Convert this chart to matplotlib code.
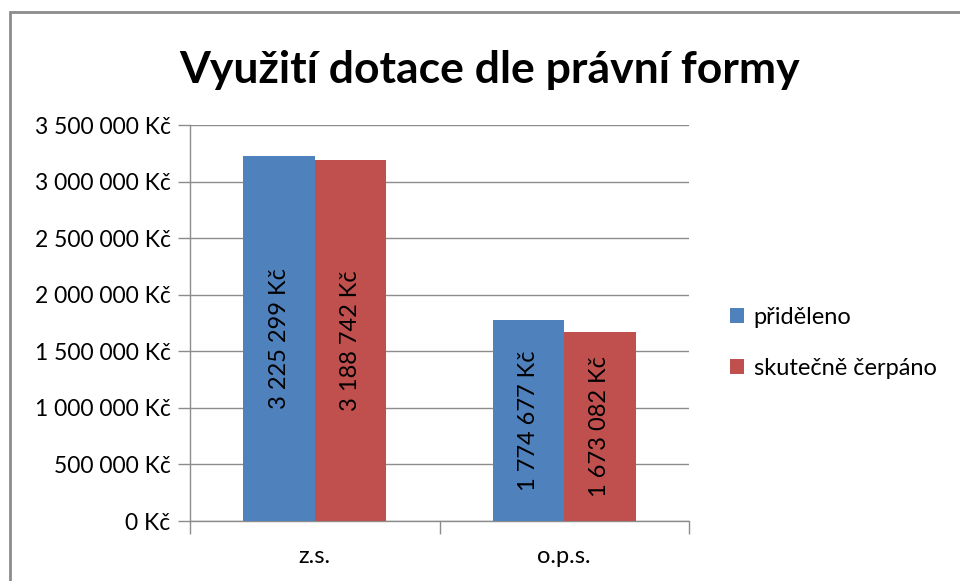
import matplotlib.pyplot as plt
import matplotlib.ticker as mticker
from matplotlib.patches import Rectangle
import numpy as np

plt.rcParams['font.family'] = ['Lato', 'DejaVu Sans']

categories = ["z.s.", "o.p.s."]
pridel = [3225299, 1774677]
cerpano = [3188742, 1673082]
series_names = ["přiděleno", "skutečně čerpáno"]
colors = ["#4F81BD", "#C0504D"]

def kc(v):
    return "{:,.0f} Kč".format(v).replace(",", " ")

fig = plt.figure(figsize=(9.6, 5.81), dpi=100)
# chart frame (cut off at right and bottom like in the screenshot)
fig.patches.append(Rectangle((10 / 960, -0.05), 1.0, 1 - 12 / 581 + 0.05,
                             transform=fig.transFigure, fill=False,
                             edgecolor="#8c8c8c", linewidth=2))

ax = fig.add_axes([190 / 960, 1 - 521 / 581, 499 / 960, 396 / 581])

x = np.arange(len(categories))
w = 1 / 3.5
b1 = ax.bar(x - w / 2, pridel, w, color=colors[0], label=series_names[0], zorder=3)
b2 = ax.bar(x + w / 2, cerpano, w, color=colors[1], label=series_names[1], zorder=3)

for bars, vals in [(b1, pridel), (b2, cerpano)]:
    for r, v in zip(bars, vals):
        ax.text(r.get_x() + r.get_width() / 2, v / 2, kc(v), rotation=90,
                ha="center", va="center", fontsize=17, color="black", zorder=4)

ax.set_xlim(-0.5, 1.5)
ax.set_ylim(0, 3500000)
ax.yaxis.set_major_locator(mticker.MultipleLocator(500000))
ax.yaxis.set_major_formatter(mticker.FuncFormatter(lambda v, p: kc(v)))
ax.grid(axis="y", color="#8c8c8c", linewidth=1, zorder=0)
ax.set_xticks(x)
ax.set_xticklabels(categories)
ax.set_xticks([-0.5, 0.5, 1.5], minor=True)
ax.tick_params(axis="x", which="major", length=0, pad=18, labelsize=17)
ax.tick_params(axis="x", which="minor", length=9, color="#8c8c8c", width=1)
ax.tick_params(axis="y", length=9, color="#8c8c8c", width=1, labelsize=16.5, pad=5)
for s in ["top", "right"]:
    ax.spines[s].set_visible(False)
for s in ["left", "bottom"]:
    ax.spines[s].set_color("#8c8c8c")
    ax.spines[s].set_linewidth(1)

fig.text(490 / 960, 1 - 70 / 581, "Využití dotace dle právní formy",
         ha="center", va="center", fontsize=32, fontweight="bold")

fig.legend(loc="center left", bbox_to_anchor=(709 / 960, 1 - 343 / 581),
           frameon=False, fontsize=17, handlelength=0.6, handleheight=0.6,
           handletextpad=0.4, labelspacing=1.25)

fig.savefig("out.png", dpi=100)
